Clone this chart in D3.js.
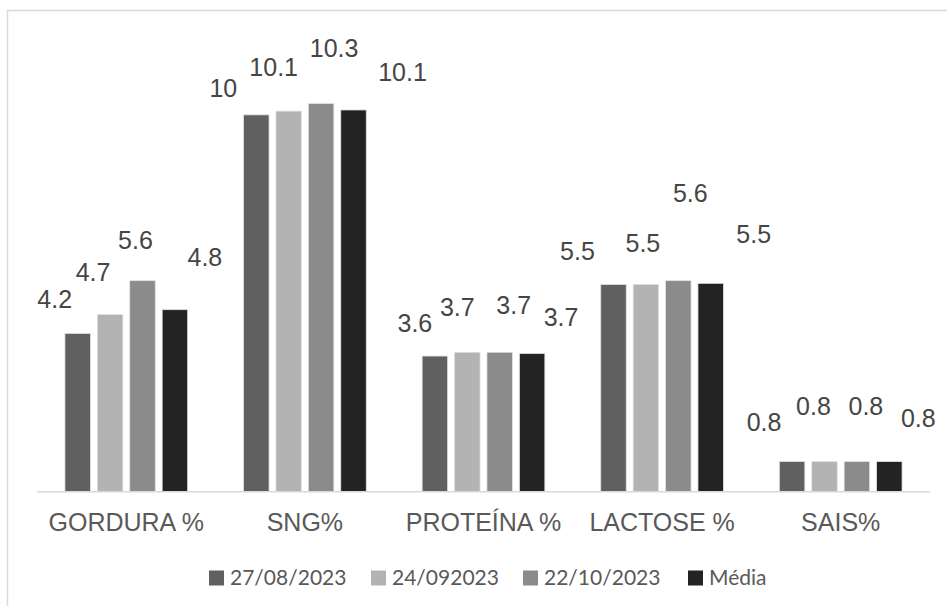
<!DOCTYPE html>
<html>
<head>
<meta charset="utf-8">
<script src="https://cdn.jsdelivr.net/npm/d3@7"></script>
<style>
  html, body { margin: 0; padding: 0; background: #fff; }
  svg { display: block; }
</style>
</head>
<body>
<svg id="chart" width="947" height="606"></svg>
<script>
(function () {
    const categories = ['GORDURA %', 'SNG%', 'PROTEÍNA %', 'LACTOSE %', 'SAIS%'];
    const seriesNames = ['27/08/2023', '24/092023', '22/10/2023', 'Média'];

    const serie1 = [4.2, 10, 3.6, 5.5, 0.8];
    const serie2 = [4.7, 10.1, 3.7, 5.5, 0.8];
    const serie3 = [5.6, 10.3, 3.7, 5.6, 0.8];
    const media = [4.83, 10.13, 3.67, 5.53, 0.8];

    const seriesValues = [serie1, serie2, serie3, media];
    const colors = ['#606060', '#b3b3b3', '#8b8b8b', '#232323'];

    // labels were dragged by hand in the original, nudge from bar top (dx, dy)
    const labelNudges = [
        [[-23, -34], [-33, -27], [-20, -33], [-36, -33], [-28, -40]],
        [[-17, -43], [-15, -44], [-10, -45], [-3, -41], [-11, -56]],
        [[-7, -41], [13, -56], [14, -47], [12, -88], [9, -56]],
        [[30, -53], [49, -38], [29, -36], [43, -49], [29, -44]]
    ];

    const svg = d3.select('#chart'),
            width = +svg.attr('width'),
            height = +svg.attr('height');

    const x0 = d3.scaleBand()
            .domain(categories)
            .range([37, 930])
            .padding(0);

    const x1 = d3.scaleBand()
            .domain(seriesNames)
            .range([0, x0.bandwidth()])
            .paddingInner(0.213)
            .paddingOuter(0.862);

    const y = d3.scaleLinear()
            .domain([0, 12])
            .range([491.7, 39.5]);

    const fmt = d3.format('.1~f');

    // chart frame (only left and top edges visible)
    svg.append('path')
        .attr('d', `M7.5,${height} V10.5 H${width}`)
        .attr('fill', 'none')
        .attr('stroke', '#d9d9d9')
        .attr('stroke-width', 1.5);

    const rows = [];
    seriesValues.forEach((vals, s) => {
        vals.forEach((v, c) => {
            rows.push({ s: s, c: c, cat: categories[c], name: seriesNames[s], value: v });
        });
    });

    svg.append('g')
        .selectAll('rect')
        .data(rows)
        .enter()
        .append('rect')
        .attr('x', d => x0(d.cat) + x1(d.name))
        .attr('y', d => y(d.value))
        .attr('width', x1.bandwidth())
        .attr('height', d => y(0) - y(d.value))
        .attr('fill', d => colors[d.s])
        .attr('stroke', '#e2e2e2')
        .attr('stroke-width', 0.8);

    // baseline
    svg.append('line')
        .attr('x1', x0.range()[0])
        .attr('x2', x0.range()[1])
        .attr('y1', y(0))
        .attr('y2', y(0))
        .attr('stroke', '#d9d9d9')
        .attr('stroke-width', 1.5);

    // data labels
    svg.append('g')
        .selectAll('text')
        .data(rows)
        .enter()
        .append('text')
        .attr('x', d => x0(d.cat) + x1(d.name) + x1.bandwidth() / 2 + labelNudges[d.s][d.c][0])
        .attr('y', d => y(d.value) + labelNudges[d.s][d.c][1])
        .attr('dy', '0.36em')
        .attr('text-anchor', 'middle')
        .attr('font-family', 'Liberation Sans, Arial, sans-serif')
        .attr('font-size', 25)
        .attr('fill', '#454545')
        .text(d => fmt(d.value));

    // category axis
    const xAxis = svg.append('g')
            .attr('transform', `translate(0,${y(0)})`)
            .call(d3.axisBottom(x0).tickSize(0).tickPadding(22));
    xAxis.select('.domain').remove();
    xAxis.selectAll('text')
        .attr('font-family', 'Liberation Sans, Arial, sans-serif')
        .attr('font-size', 25)
        .attr('fill', '#595959');

    // legend
    const legendX = [209, 371, 523, 688];
    const legend = svg.append('g')
            .selectAll('g')
            .data(seriesNames)
            .enter()
            .append('g')
            .attr('transform', (d, i) => `translate(${legendX[i]},578)`);

    legend.append('rect')
        .attr('x', 0)
        .attr('y', -7.5)
        .attr('width', 15)
        .attr('height', 15)
        .attr('fill', (d, i) => colors[i]);

    legend.append('text')
        .attr('x', 21)
        .attr('y', 0)
        .attr('dy', '0.35em')
        .attr('font-family', 'Lato, Carlito, sans-serif')
        .attr('font-size', 21)
        .attr('fill', '#595959')
        .text(d => d);
})();
</script>
</body>
</html>
